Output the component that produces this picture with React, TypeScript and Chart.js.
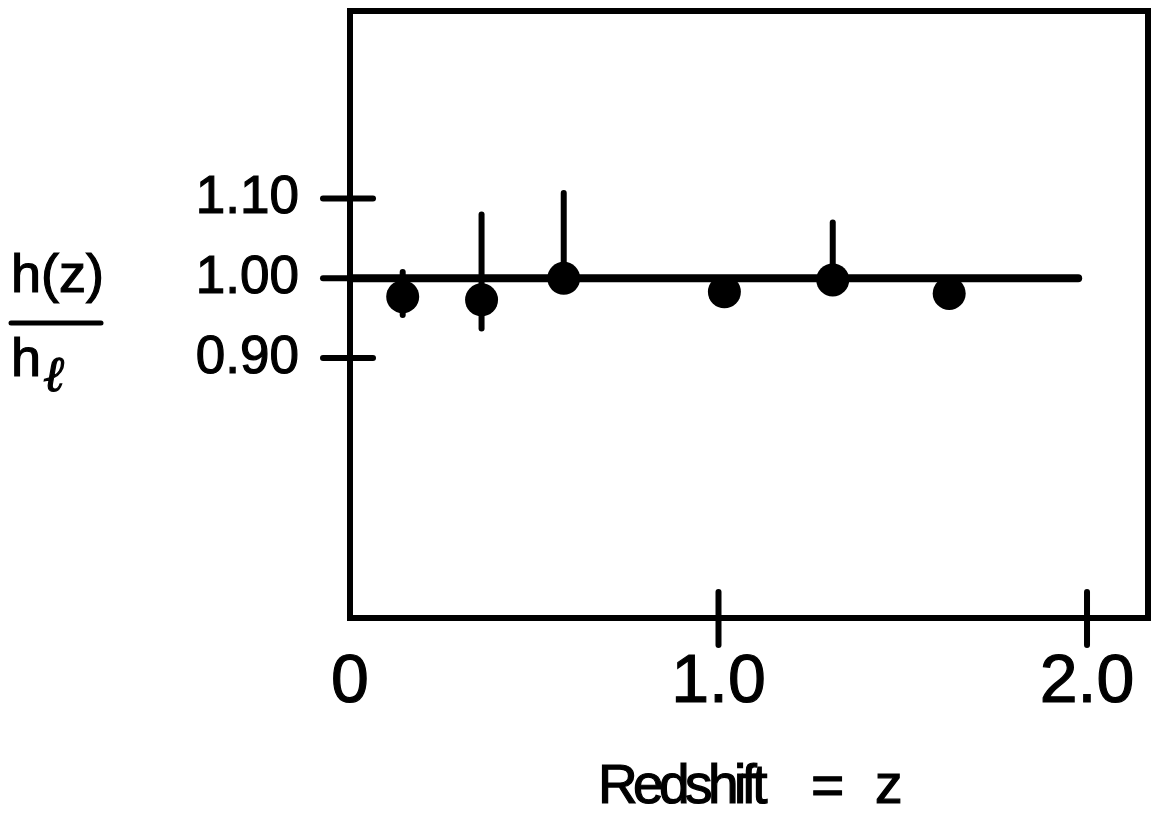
import React, { useEffect, useRef } from "react";
import { Chart, registerables } from "chart.js";

Chart.register(...registerables);

// ---- data ----
const redshift = [0.143, 0.357, 0.58, 1.016, 1.31, 1.626];
const ratio = [0.977, 0.973, 1.0, 0.983, 0.998, 0.981];
const errHigh: (number | null)[] = [1.008, 1.08, 1.107, null, 1.07, null];
const errLow: (number | null)[] = [0.954, 0.937, null, null, null, null];
const refLineX = [0, 1.976];
const refLineY = [1.0, 1.0];

const xTickValues = [0, 1.0, 2.0];
const xTickLabels = ["0", "1.0", "2.0"];
const yTickValues = [0.9, 1.0, 1.1];
const yTickLabels = ["0.90", "1.00", "1.10"];

const xMin = 0;
const xMax = 2.1655;
const yMin = 0.574;
const yMax = 1.3352;

const yLabelTop = "h(z)";
const yLabelBottom = "h";
const yLabelSub = "ℓ";
const xTitleParts = ["Redshift", "=", "z"];

const SANS = "'Liberation Sans', Arial, Helvetica, sans-serif";

const framePlugin = {
  id: "frame",
  beforeDatasetsDraw(chart: any) {
    const { ctx, chartArea: a, scales } = chart;
    const line = (x1: number, y1: number, x2: number, y2: number) => {
      ctx.beginPath();
      ctx.moveTo(x1, y1);
      ctx.lineTo(x2, y2);
      ctx.stroke();
    };
    ctx.save();
    ctx.strokeStyle = "#000";
    ctx.lineWidth = 6;
    ctx.lineJoin = "miter";
    ctx.strokeRect(a.left, a.top, a.right - a.left, a.bottom - a.top);
    ctx.lineCap = "round";
    xTickValues.forEach((v) => {
      const px = scales.x.getPixelForValue(v);
      if (Math.abs(px - a.left) < 2) return;
      line(px, a.bottom - 26, px, a.bottom + 27);
    });
    yTickValues.forEach((v) => {
      const py = scales.y.getPixelForValue(v);
      line(a.left - 27, py, a.left + 23, py);
    });
    // error bars
    ctx.lineWidth = 6;
    redshift.forEach((z, i) => {
      const hi = errHigh[i] ?? ratio[i];
      const lo = errLow[i] ?? ratio[i];
      if (hi === lo) return;
      const px = scales.x.getPixelForValue(z);
      line(px, scales.y.getPixelForValue(hi), px, scales.y.getPixelForValue(lo));
    });
    ctx.restore();
  },
  afterDraw(chart: any) {
    const { ctx } = chart;
    const txt = (s: string, x: number, y: number) => {
      ctx.fillText(s, x, y);
      ctx.strokeText(s, x, y);
    };
    ctx.save();
    ctx.fillStyle = "#000";
    ctx.strokeStyle = "#000";
    ctx.textBaseline = "alphabetic";
    ctx.textAlign = "left";
    ctx.lineWidth = 1.2;
    // y-axis label as a fraction h(z) / h_l
    ctx.font = `54px ${SANS}`;
    txt(yLabelTop, 11, 292);
    txt(yLabelBottom, 11, 376);
    ctx.font = `bold italic 50px 'Liberation Serif', 'DejaVu Serif', serif`;
    txt(yLabelSub, 44, 391);
    ctx.lineWidth = 5;
    ctx.lineCap = "round";
    ctx.beginPath();
    ctx.moveTo(11, 323);
    ctx.lineTo(101, 323);
    ctx.stroke();
    // x title
    ctx.lineWidth = 1.2;
    ctx.font = `55px ${SANS}`;
    (ctx as any).letterSpacing = "-4.6px";
    txt(xTitleParts[0], 598, 803);
    (ctx as any).letterSpacing = "0px";
    ctx.font = `57px ${SANS}`;
    txt(xTitleParts[1], 811, 805);
    ctx.font = `55px ${SANS}`;
    txt(xTitleParts[2], 875, 803);
    ctx.restore();
  },
};

const zeroPad = (s: any) => {
  s.paddingTop = 0;
  s.paddingBottom = 0;
  s.paddingLeft = 0;
  s.paddingRight = 0;
};

export default function App() {
  const ref = useRef<HTMLCanvasElement>(null);
  useEffect(() => {
    if (!ref.current) return;
    const chart = new Chart(ref.current, {
      type: "scatter",
      data: {
        datasets: [
          {
            data: refLineX.map((x, i) => ({ x, y: refLineY[i] })),
            showLine: true,
            borderColor: "#000",
            borderWidth: 8,
            borderCapStyle: "round",
            pointRadius: 0,
            order: 2,
          } as any,
          {
            data: redshift.map((x, i) => ({ x, y: ratio[i] })),
            backgroundColor: "#000",
            borderWidth: 0,
            pointRadius: 16.5,
            order: 1,
          } as any,
        ],
      },
      options: {
        animation: false,
        responsive: false,
        events: [],
        layout: { autoPadding: false, padding: { top: 11, right: 4, left: 0, bottom: 0 } },
        plugins: { legend: { display: false }, tooltip: { enabled: false } },
        scales: {
          x: {
            type: "linear",
            min: xMin,
            max: xMax,
            grid: { display: false },
            border: { display: false },
            afterBuildTicks: (s: any) => {
              s.ticks = xTickValues.map((v) => ({ value: v }));
            },
            afterFit: (s: any) => {
              s.height = 201;
              zeroPad(s);
            },
            ticks: {
              autoSkip: false,
              maxRotation: 0,
              padding: 16,
              color: "#000",
              textStrokeColor: "#000",
              textStrokeWidth: 1.2,
              font: { family: SANS, size: 68 },
              callback: (v: any) => {
                const i = xTickValues.indexOf(Number(v));
                return i >= 0 ? xTickLabels[i] : "";
              },
            },
          } as any,
          y: {
            type: "linear",
            min: yMin,
            max: yMax,
            grid: { display: false },
            border: { display: false },
            afterBuildTicks: (s: any) => {
              s.ticks = yTickValues.map((v) => ({ value: v }));
            },
            afterFit: (s: any) => {
              s.width = 350;
              zeroPad(s);
            },
            ticks: {
              autoSkip: false,
              padding: 43,
              color: "#000",
              textStrokeColor: "#000",
              textStrokeWidth: 1.2,
              font: { family: SANS, size: 53 },
              callback: (v: any) => {
                const i = yTickValues.findIndex((t) => Math.abs(t - Number(v)) < 1e-9);
                return i >= 0 ? yTickLabels[i] : "";
              },
            },
          } as any,
        },
      },
      plugins: [framePlugin],
    });
    return () => chart.destroy();
  }, []);
  return (
    <div style={{ position: "fixed", left: 0, top: 0, width: 1152, height: 819, background: "#fff" }}>
      <canvas ref={ref} width={1152} height={819} style={{ display: "block" }} />
    </div>
  );
}
